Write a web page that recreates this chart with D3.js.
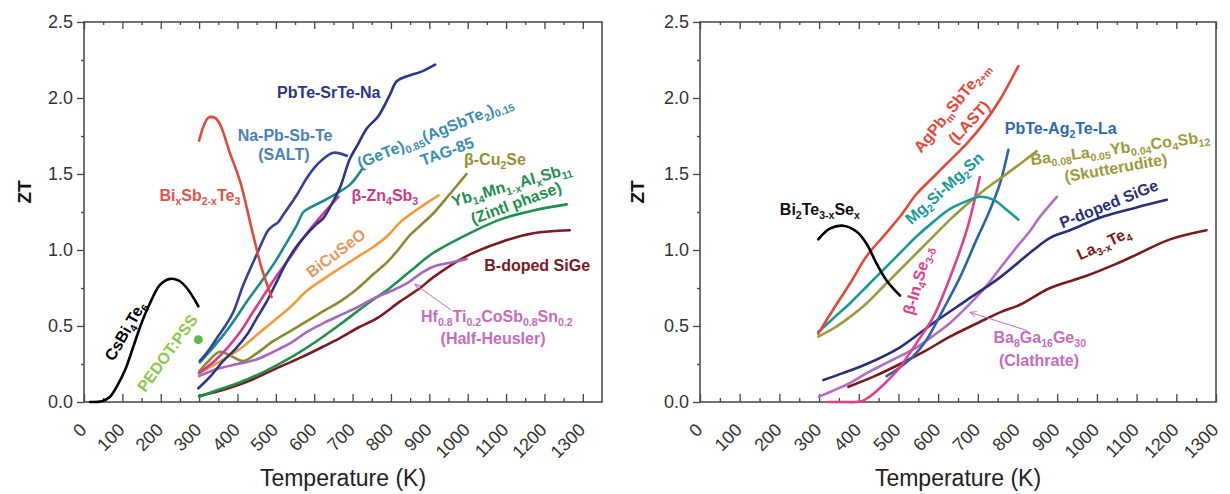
<!DOCTYPE html>
<html>
<head>
<meta charset="utf-8">
<script src="https://cdn.jsdelivr.net/npm/d3@7"></script>
<style>
  body { margin: 0; background: #fff; }
</style>
</head>
<body>
<script>
const WIDTH = 1230;
const HEIGHT = 494;
const FONT = '"Liberation Sans", Arial, Helvetica, sans-serif';

// tick values
const X_TICKS = [0, 100, 200, 300, 400, 500, 600, 700, 800, 900, 1000, 1100, 1200, 1300];
const X_MINOR = [50, 150, 250, 350, 450, 550, 650, 750, 850, 950, 1050, 1150, 1250];
const Y_TICKS = [0, 0.5, 1.0, 1.5, 2.0, 2.5];
const Y_MINOR = [0.25, 0.75, 1.25, 1.75, 2.25];

// ---- left panel data: [T (K), ZT] ----
const csBi4Te6 = [[16,0],[46,0.005],[68,0.035],[85,0.10],[107,0.21],[128,0.36],[150,0.52],[172,0.65],[198,0.77],[224,0.81],[246,0.80],[268,0.75],[298,0.63]];
const pedotPss = [[298,0.41]];
const bixSbTe = [[300,1.72],[324,1.87],[341,1.87],[354,1.83],[380,1.64],[407,1.45],[437,1.14],[463,0.88],[489,0.69]];
const pbteSrteNa = [[298,0.09],[330,0.17],[363,0.27],[395,0.35],[424,0.44],[450,0.55],[476,0.66],[500,0.78],[528,0.92],[550,1.01],[572,1.08],[606,1.17],[624,1.21],[645,1.30],[667,1.41],[693,1.60],[715,1.70],[737,1.80],[767,1.88],[797,2.02],[815,2.11],[850,2.15],[876,2.17],[915,2.22]];
const salt = [[302,0.27],[325,0.34],[346,0.42],[368,0.50],[389,0.59],[415,0.77],[450,0.97],[480,1.13],[493,1.16],[505,1.18],[519,1.23],[554,1.36],[580,1.47],[600,1.54],[624,1.60],[650,1.64],[685,1.62]];
const tag85 = [[302,0.26],[330,0.34],[363,0.44],[395,0.55],[424,0.66],[450,0.75],[476,0.84],[500,0.93],[519,1.01],[554,1.16],[572,1.25],[590,1.28],[606,1.30],[650,1.36],[693,1.43],[724,1.53]];
const zn4Sb3 = [[300,0.19],[340,0.27],[375,0.36],[407,0.46],[440,0.59],[476,0.73],[505,0.84],[537,0.95],[572,1.08],[610,1.20],[663,1.35]];
const biCuSeO = [[300,0.19],[350,0.26],[407,0.35],[450,0.44],[493,0.53],[540,0.63],[580,0.73],[625,0.81],[667,0.88],[710,0.95],[754,1.02],[790,1.09],[823,1.18],[870,1.27],[924,1.36]];
const cu2Se = [[300,0.20],[325,0.27],[354,0.33],[385,0.30],[415,0.27],[450,0.32],[493,0.40],[540,0.47],[580,0.53],[625,0.60],[667,0.66],[710,0.74],[754,0.84],[790,0.92],[815,0.99],[850,1.10],[876,1.16],[910,1.24],[954,1.37],[997,1.50]];
const yb14 = [[300,0.035],[350,0.08],[407,0.13],[470,0.20],[537,0.29],[600,0.39],[667,0.51],[730,0.63],[797,0.75],[850,0.86],[910,0.98],[997,1.10],[1084,1.20],[1171,1.26],[1258,1.30]];
const bSiGe = [[300,0.04],[350,0.07],[400,0.11],[450,0.16],[500,0.22],[563,0.29],[620,0.36],[667,0.42],[715,0.49],[763,0.55],[823,0.66],[876,0.75],[910,0.82],[997,0.96],[1084,1.05],[1171,1.11],[1266,1.13]];
const halfHeusler = [[300,0.17],[350,0.22],[400,0.25],[450,0.28],[493,0.33],[540,0.39],[580,0.46],[625,0.52],[667,0.57],[710,0.62],[754,0.68],[800,0.73],[841,0.78],[880,0.85],[910,0.89],[960,0.92],[997,0.94]];

// ---- right panel data ----
const bi2Te3Se = [[298,1.07],[327,1.14],[361,1.16],[395,1.12],[420,1.04],[445,0.91],[470,0.80],[504,0.70]];
const last = [[298,0.45],[336,0.61],[378,0.78],[420,0.96],[462,1.09],[504,1.22],[546,1.37],[588,1.48],[630,1.59],[672,1.70],[714,1.83],[756,1.99],[802,2.21]];
const mg2Si = [[298,0.46],[340,0.56],[378,0.65],[420,0.76],[462,0.87],[504,0.98],[546,1.09],[590,1.19],[630,1.27],[670,1.32],[705,1.35],[740,1.33],[770,1.27],[802,1.20]];
const skutterudite = [[298,0.43],[340,0.49],[378,0.56],[420,0.65],[462,0.76],[504,0.87],[546,0.98],[588,1.09],[630,1.20],[672,1.30],[714,1.39],[756,1.47],[798,1.55],[848,1.65]];
const pbteAg2Te = [[470,0.17],[500,0.22],[537,0.30],[571,0.41],[613,0.61],[655,0.82],[697,1.07],[730,1.26],[756,1.44],[777,1.66]];
const pSiGe = [[311,0.145],[360,0.19],[420,0.25],[504,0.36],[588,0.52],[672,0.67],[756,0.82],[840,1.00],[882,1.08],[932,1.13],[1016,1.22],[1100,1.28],[1176,1.33]];
const la3Te4 = [[374,0.10],[440,0.17],[504,0.25],[570,0.34],[630,0.43],[700,0.52],[756,0.59],[806,0.64],[882,0.75],[974,0.83],[1050,0.91],[1100,0.97],[1184,1.07],[1276,1.13]];
const in4Se3 = [[323,0],[360,0],[407,0.005],[430,0.04],[457,0.10],[480,0.16],[504,0.23],[546,0.39],[588,0.56],[630,0.82],[672,1.13],[705,1.48]];
const clathrate = [[300,0.035],[340,0.08],[374,0.12],[420,0.19],[480,0.27],[546,0.36],[590,0.44],[630,0.52],[670,0.62],[714,0.74],[756,0.88],[798,1.02],[830,1.12],[857,1.22],[899,1.35]];

const svg = d3.select("body").append("svg")
  .attr("width", WIDTH)
  .attr("height", HEIGHT)
  .style("font-family", FONT);

svg.append("defs").selectAll("marker")
  .data([["arrL", "#b86cc0"], ["arrR", "#c06cc0"]])
  .enter().append("marker")
    .attr("id", d => d[0])
    .attr("viewBox", "0 0 10 10")
    .attr("refX", 9).attr("refY", 5)
    .attr("markerWidth", 7).attr("markerHeight", 7)
    .attr("orient", "auto")
  .append("path")
    .attr("d", "M0,1 L9,5 L0,9")
    .attr("fill", "none")
    .attr("stroke", d => d[1])
    .attr("stroke-width", 1.2);

// writes text with _{...} subscripts as tspans
function richText(sel, str, size) {
  const shift = size * 0.24;
  let down = false;
  str.split(/(_\{[^}]*\})/).forEach(part => {
    if (!part) return;
    if (part.startsWith("_{")) {
      sel.append("tspan").attr("font-size", size * 0.66).attr("dy", down ? 0 : shift).text(part.slice(2, -1));
      down = true;
    } else {
      sel.append("tspan").attr("dy", down ? -shift : 0).text(part);
      down = false;
    }
  });
}

function drawPanel(p) {
  const x = d3.scaleLinear().domain([0, p.xMax]).range([p.left, p.right]);
  const y = d3.scaleLinear().domain([0, 2.5]).range([402, 22]);
  const g = svg.append("g");
  const axisColor = "#444";

  // bottom axis, ticks pointing inwards, labels rotated
  g.append("g")
    .attr("transform", `translate(0,${y(0)})`)
    .call(d3.axisBottom(x).tickValues(X_TICKS).tickSize(-8).tickPadding(0).tickFormat(d3.format("d")))
    .attr("font-size", 18).attr("font-family", FONT)
    .call(a => {
      a.select(".domain").remove();
      a.selectAll("line").attr("stroke", axisColor).attr("stroke-width", 1.3);
      a.selectAll("text")
        .attr("x", 0).attr("y", 0).attr("dy", null)
        .attr("text-anchor", "end")
        .attr("fill", "#333")
        .attr("transform", "translate(3,29) rotate(-45)");
    });
  g.append("g")
    .attr("transform", `translate(0,${y(0)})`)
    .call(d3.axisBottom(x).tickValues(X_MINOR).tickSize(-4).tickFormat(""))
    .call(a => { a.select(".domain").remove(); a.selectAll("line").attr("stroke", axisColor).attr("stroke-width", 1.3); });

  // top axis (ticks only)
  g.append("g")
    .attr("transform", `translate(0,${y(2.5)})`)
    .call(d3.axisTop(x).tickValues(X_TICKS).tickSize(-7).tickFormat(""))
    .call(a => { a.select(".domain").remove(); a.selectAll("line").attr("stroke", axisColor).attr("stroke-width", 1.3); });
  g.append("g")
    .attr("transform", `translate(0,${y(2.5)})`)
    .call(d3.axisTop(x).tickValues(X_MINOR).tickSize(-3).tickFormat(""))
    .call(a => { a.select(".domain").remove(); a.selectAll("line").attr("stroke", axisColor).attr("stroke-width", 1.3); });

  // left axis
  g.append("g")
    .attr("transform", `translate(${p.left},0)`)
    .call(d3.axisLeft(y).tickValues(Y_TICKS).tickSize(7).tickPadding(4).tickFormat(d3.format(".1f")))
    .attr("font-size", 18).attr("font-family", FONT)
    .call(a => {
      a.select(".domain").remove();
      a.selectAll("line").attr("stroke", axisColor).attr("stroke-width", 1.3);
      a.selectAll("text").attr("fill", "#333");
    });
  g.append("g")
    .attr("transform", `translate(${p.left},0)`)
    .call(d3.axisLeft(y).tickValues(Y_MINOR).tickSize(3).tickFormat(""))
    .call(a => { a.select(".domain").remove(); a.selectAll("line").attr("stroke", axisColor).attr("stroke-width", 1.3); });

  // frame
  g.append("rect")
    .attr("x", p.left).attr("y", y(2.5))
    .attr("width", p.right - p.left).attr("height", y(0) - y(2.5))
    .attr("fill", "none").attr("stroke", axisColor).attr("stroke-width", 1.5);

  // axis titles
  g.append("text")
    .attr("transform", `translate(${p.ztX},192) rotate(-90)`)
    .attr("text-anchor", "middle").attr("dy", "0.35em")
    .attr("font-size", 19).attr("font-weight", "bold").attr("fill", "#111")
    .text("ZT");
  g.append("text")
    .attr("x", (p.left + p.right) / 2).attr("y", 486)
    .attr("text-anchor", "middle")
    .attr("font-size", 23).attr("fill", "#222")
    .text("Temperature (K)");

  // curves
  const line = d3.line()
    .x(d => x(d[0]))
    .y(d => y(d[1]))
    .curve(d3.curveCatmullRom.alpha(0.5));
  g.append("g").selectAll("path")
    .data(p.series)
    .enter().append("path")
      .attr("d", s => line(s.data))
      .attr("fill", "none")
      .attr("stroke", s => s.color)
      .attr("stroke-width", 2.6)
      .attr("stroke-linejoin", "round")
      .attr("stroke-linecap", "round");

  // single points
  g.selectAll("circle.pt")
    .data(p.points)
    .enter().append("circle").attr("class", "pt")
      .attr("cx", d => x(d.data[0][0]))
      .attr("cy", d => y(d.data[0][1]))
      .attr("r", 4.5)
      .attr("fill", d => d.color);

  // arrows
  p.arrows.forEach(a => {
    g.append("line")
      .attr("x1", x(a.from[0])).attr("y1", y(a.from[1]))
      .attr("x2", x(a.to[0])).attr("y2", y(a.to[1]))
      .attr("stroke", a.color).attr("stroke-width", 1)
      .attr("marker-end", `url(#${a.marker})`);
  });

  // curve labels
  p.labels.forEach(l => {
    const size = l.size || 16;
    const t = g.append("text")
      .attr("transform", `translate(${x(l.at[0])},${y(l.at[1])}) rotate(${l.rot || 0})`)
      .attr("text-anchor", "middle")
      .attr("dy", "0.35em")
      .attr("font-size", size)
      .attr("font-weight", "bold")
      .attr("fill", l.color);
    richText(t, l.text, size);
  });
}

drawPanel({
  xMax: 1350, left: 84, right: 602, ztX: 24,
  series: [
    { data: bSiGe, color: "#7a1a22" },
    { data: yb14, color: "#1f8f4c" },
    { data: halfHeusler, color: "#a866c0" },
    { data: cu2Se, color: "#8a8a30" },
    { data: biCuSeO, color: "#f39a3c" },
    { data: zn4Sb3, color: "#d43a8e" },
    { data: tag85, color: "#1d8a88" },
    { data: salt, color: "#34409a" },
    { data: pbteSrteNa, color: "#2b3588" },
    { data: bixSbTe, color: "#e04a3c" },
    { data: csBi4Te6, color: "#000000" }
  ],
  points: [{ data: pedotPss, color: "#5cbd4c" }],
  arrows: [{ from: [957, 0.605], to: [862, 0.775], color: "#b86cc0", marker: "arrL" }],
  labels: [
    { text: "PbTe-SrTe-Na", at: [638, 2.0], color: "#2b3588" },
    { text: "Na-Pb-Sb-Te", at: [524, 1.72], color: "#4a80b8" },
    { text: "(SALT)", at: [521, 1.59], color: "#4a80b8" },
    { text: "Bi_{x}Sb_{2-x}Te_{3}", at: [302, 1.32], color: "#e0524a" },
    { text: "(GeTe)_{0.85}(AgSbTe_{2})_{0.15}", at: [920, 1.74], rot: -22, color: "#3a8db0" },
    { text: "TAG-85", at: [951, 1.615], rot: -20, color: "#3a8db0" },
    { text: "β-Cu_{2}Se", at: [1071, 1.56], color: "#958f3a" },
    { text: "Yb_{14}Mn_{1-x}Al_{x}Sb_{11}", at: [1118, 1.395], rot: -16, color: "#1f8f4c" },
    { text: "(Zintl phase)", at: [1131, 1.275], rot: -20, color: "#1f8f4c" },
    { text: "β-Zn_{4}Sb_{3}", at: [784, 1.32], color: "#cc3a8a" },
    { text: "BiCuSeO", at: [665, 0.95], rot: -37, color: "#e8995a" },
    { text: "B-doped SiGe", at: [1181, 0.86], color: "#7a1a22" },
    { text: "Hf_{0.8}Ti_{0.2}CoSb_{0.8}Sn_{0.2}", at: [1076, 0.525], color: "#c46cc0" },
    { text: "(Half-Heusler)", at: [1066, 0.38], color: "#c46cc0" },
    { text: "CsBi_{4}Te_{6}", at: [120, 0.45], rot: -60, color: "#000000" },
    { text: "PEDOT:PSS", at: [229, 0.30], rot: -54, color: "#8cc84a" }
  ]
});

drawPanel({
  xMax: 1300, left: 700, right: 1216, ztX: 637,
  series: [
    { data: la3Te4, color: "#7a1a1a" },
    { data: clathrate, color: "#b46cc4" },
    { data: pSiGe, color: "#2a2f7a" },
    { data: pbteAg2Te, color: "#2c62ac" },
    { data: in4Se3, color: "#e0408a" },
    { data: skutterudite, color: "#9a9a3a" },
    { data: mg2Si, color: "#1a9a96" },
    { data: last, color: "#e04a3a" },
    { data: bi2Te3Se, color: "#000000" }
  ],
  points: [],
  arrows: [{ from: [824, 0.47], to: [680, 0.59], color: "#c06cc0", marker: "arrR" }],
  labels: [
    { text: "Bi_{2}Te_{3-x}Se_{x}", at: [302, 1.23], color: "#111111" },
    { text: "AgPb_{m}SbTe_{2+m}", at: [645, 1.915], rot: -51, color: "#e04a3a" },
    { text: "(LAST)", at: [688, 1.815], rot: -47, color: "#e04a3a" },
    { text: "PbTe-Ag_{2}Te-La", at: [909, 1.76], color: "#2c6ab0" },
    { text: "Ba_{0.08}La_{0.05}Yb_{0.04}Co_{4}Sb_{12}", at: [1060, 1.635], rot: -7.5, color: "#9a9a3a" },
    { text: "(Skutterudite)", at: [1050, 1.505], rot: -10, color: "#9a9a3a" },
    { text: "Mg_{2}Si-Mg_{2}Sn", at: [625, 1.38], rot: -42, color: "#1a9a96" },
    { text: "P-doped SiGe", at: [1035, 1.27], rot: -22, color: "#2a2f7a" },
    { text: "La_{3-x}Te_{4}", at: [1023, 1.01], rot: -25, color: "#7a1a1a" },
    { text: "β-In_{4}Se_{3-δ}", at: [562, 0.79], rot: -74, color: "#e0408a" },
    { text: "Ba_{8}Ga_{16}Ge_{30}", at: [856, 0.39], color: "#c46cc0" },
    { text: "(Clathrate)", at: [854, 0.24], color: "#c46cc0" }
  ]
});
</script>
</body>
</html>
